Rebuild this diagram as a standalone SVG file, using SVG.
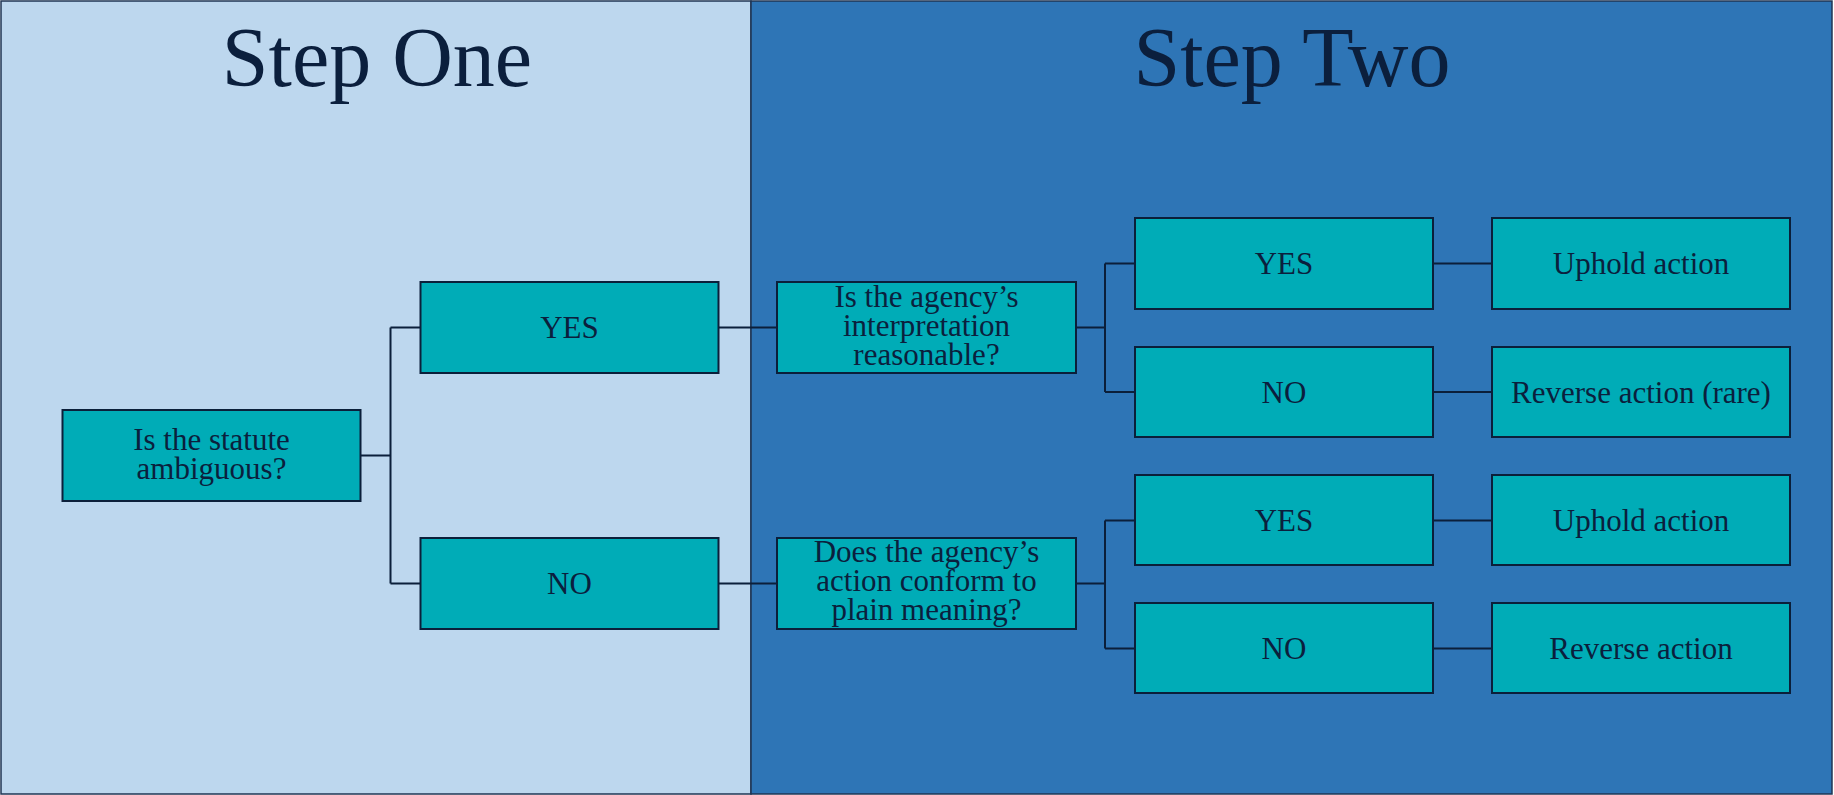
<svg xmlns="http://www.w3.org/2000/svg" width="1834" height="795" viewBox="0 0 1834 795">
<style>
.panel{stroke:#1f3553;stroke-width:1.5}
.box{fill:#00acb7;stroke:#0b1f3a;stroke-width:2}
.t{font-family:"Liberation Serif","Times New Roman",serif;font-size:31px;fill:#0b1f3d;text-anchor:middle}
.title{font-family:"Liberation Serif","Times New Roman",serif;font-size:84px;fill:#0b1f3d;text-anchor:middle}
.c{fill:none;stroke:#0b1f3a;stroke-width:2}
</style>
<g id="panels">
<rect class="panel" x="1" y="1" width="750" height="793" fill="#bdd7ee"/>
<rect class="panel" x="751" y="1" width="1081" height="793" fill="#2e75b6"/>
<text class="title" x="377" y="86">Step One</text>
<text class="title" x="1292" y="86">Step Two</text>
</g>
<g id="connectors">
<path class="c" d="M361 455.5H390.5M390.5 327.5V583.5M390.5 327.5H420.5M390.5 583.5H420.5"/>
<path class="c" d="M718.5 327.5H777M718.5 583.5H777"/>
<path class="c" d="M1076 327.5H1105M1105 263.5V392M1105 263.5H1135M1105 392H1135"/>
<path class="c" d="M1076 583.5H1105M1105 520.5V648.5M1105 520.5H1135M1105 648.5H1135"/>
<path class="c" d="M1433 263.5H1492M1433 392H1492M1433 520.5H1492M1433 648.5H1492"/>
</g>
<g id="n-statute">
<rect class="box" x="62.5" y="410" width="298" height="91"/>
<text class="t" x="211.5" y="450">Is the statute</text>
<text class="t" x="211.5" y="478.5">ambiguous?</text>
</g>
<g id="n-yes1">
<rect class="box" x="420.5" y="282" width="298" height="91"/>
<text class="t" x="569.5" y="338">YES</text>
</g>
<g id="n-no1">
<rect class="box" x="420.5" y="538" width="298" height="91"/>
<text class="t" x="569.5" y="594">NO</text>
</g>
<g id="n-reasonable">
<rect class="box" x="777" y="282" width="299" height="91"/>
<text class="t" x="926.5" y="307">Is the agency’s</text>
<text class="t" x="926.5" y="336">interpretation</text>
<text class="t" x="926.5" y="365">reasonable?</text>
</g>
<g id="n-conform">
<rect class="box" x="777" y="538" width="299" height="91"/>
<text class="t" x="926.5" y="562">Does the agency’s</text>
<text class="t" x="926.5" y="591">action conform to</text>
<text class="t" x="926.5" y="620">plain meaning?</text>
</g>
<g id="n-yes2">
<rect class="box" x="1135" y="218" width="298" height="91"/>
<text class="t" x="1284" y="274">YES</text>
</g>
<g id="n-no2">
<rect class="box" x="1135" y="347" width="298" height="90"/>
<text class="t" x="1284" y="402.5">NO</text>
</g>
<g id="n-yes3">
<rect class="box" x="1135" y="475" width="298" height="90"/>
<text class="t" x="1284" y="530.5">YES</text>
</g>
<g id="n-no3">
<rect class="box" x="1135" y="603" width="298" height="90"/>
<text class="t" x="1284" y="658.5">NO</text>
</g>
<g id="n-uphold1">
<rect class="box" x="1492" y="218" width="298" height="91"/>
<text class="t" x="1641" y="274">Uphold action</text>
</g>
<g id="n-reverse-rare">
<rect class="box" x="1492" y="347" width="298" height="90"/>
<text class="t" x="1641" y="402.5">Reverse action (rare)</text>
</g>
<g id="n-uphold2">
<rect class="box" x="1492" y="475" width="298" height="90"/>
<text class="t" x="1641" y="530.5">Uphold action</text>
</g>
<g id="n-reverse">
<rect class="box" x="1492" y="603" width="298" height="90"/>
<text class="t" x="1641" y="658.5">Reverse action</text>
</g>
</svg>
